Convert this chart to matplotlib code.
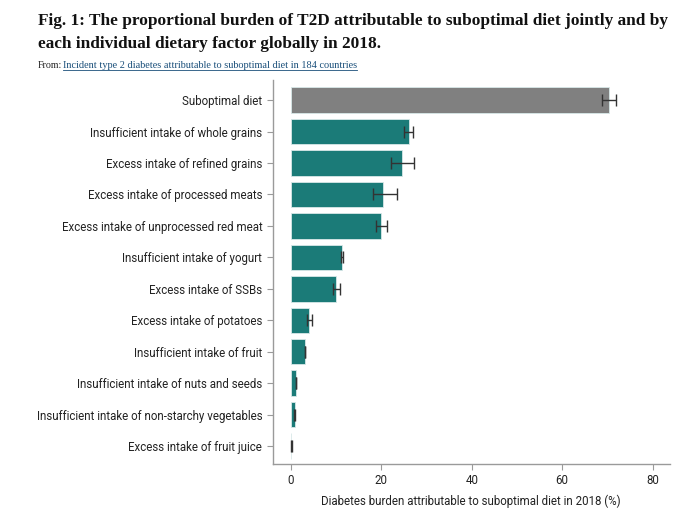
import matplotlib
matplotlib.use("Agg")
import matplotlib.pyplot as plt
import numpy as np

categories = [
    "Suboptimal diet",
    "Insufficient intake of whole grains",
    "Excess intake of refined grains",
    "Excess intake of processed meats",
    "Excess intake of unprocessed red meat",
    "Insufficient intake of yogurt",
    "Excess intake of SSBs",
    "Excess intake of potatoes",
    "Insufficient intake of fruit",
    "Insufficient intake of nuts and seeds",
    "Insufficient intake of non-starchy vegetables",
    "Excess intake of fruit juice",
]
values = [70.3, 26.1, 24.6, 20.3, 20.0, 11.3, 10.0, 4.05, 3.1, 1.05, 0.8, 0.1]
lower = [68.9, 25.0, 22.2, 18.2, 18.9, 11.0, 9.4, 3.5, 3.0, 1.0, 0.7, 0.08]
upper = [71.8, 27.1, 27.3, 23.5, 21.2, 11.6, 10.8, 4.7, 3.2, 1.1, 0.85, 0.12]
xticks = [0, 20, 40, 60, 80]

TEAL = "#1b7b78"
GRAY = "#808080"

plt.rcParams['font.family'] = ['Roboto', 'DejaVu Sans']

fig = plt.figure(figsize=(6.8, 5.09), dpi=100)
ax = fig.add_axes([0.401, 0.0884, 0.584, 0.7546])

y = np.arange(len(categories))
colors = [GRAY] + [TEAL] * (len(categories) - 1)
vals = np.array(values)
xerr = np.array([vals - np.array(lower), np.array(upper) - vals])
ax.barh(y, vals, height=0.81, color=colors, edgecolor="#d8e8e8", linewidth=0.6)
ax.errorbar(vals, y, xerr=xerr, fmt="none", ecolor="#333333", elinewidth=1.0,
            capsize=4, capthick=1.0)

ax.set_ylim(11.57, -0.64)
ax.set_xlim(-4.05, 83.8)
ax.set_yticks(y)
ax.set_yticklabels(categories, fontsize=8.3, color="#222222")
ax.set_xticks(xticks)
ax.set_xticklabels([str(t) for t in xticks], fontsize=8.3, color="#222222")
ax.set_xlabel("Diabetes burden attributable to suboptimal diet in 2018 (%)",
              fontsize=8.3, color="#222222", labelpad=5)
for s in ["top", "right"]:
    ax.spines[s].set_visible(False)
for s in ["left", "bottom"]:
    ax.spines[s].set_color("#9a9a9a")
    ax.spines[s].set_linewidth(1.0)
ax.tick_params(axis="both", color="#9a9a9a", length=4, width=0.8)

fig.text(0.056, 0.975, "Fig. 1: The proportional burden of T2D attributable to suboptimal diet jointly and by\neach individual dietary factor globally in 2018.",
         fontsize=12.45, fontweight="bold", family="Liberation Serif", va="top", ha="left",
         linespacing=1.6, color="#111111")
fig.text(0.056, 0.872, "From:", fontsize=7.2, family="Liberation Serif",
         va="center", ha="left", color="#222222")
fig.text(0.093, 0.872, "Incident type 2 diabetes attributable to suboptimal diet in 184 countries",
         fontsize=7.4, family="Liberation Serif", va="center", ha="left", color="#1a4f7a")
fig.add_artist(plt.Line2D([0.093, 0.525], [0.863, 0.863], color="#1a4f7a", linewidth=0.6))

fig.savefig("out.png", dpi=100)
